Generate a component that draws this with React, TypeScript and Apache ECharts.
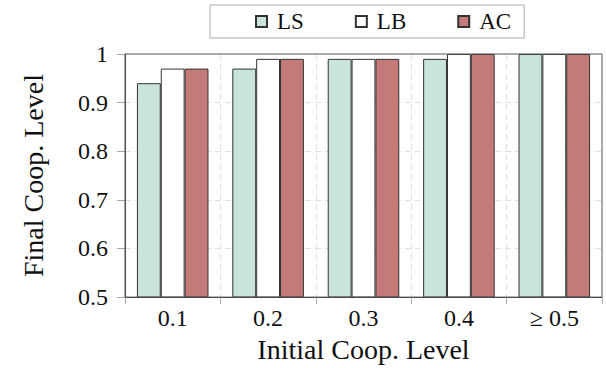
import React, { useEffect, useRef } from "react";
import * as echarts from "echarts";

const categories = ["0.1", "0.2", "0.3", "0.4", "≥ 0.5"];
const lsValues = [0.94, 0.97, 0.99, 0.99, 1.0];
const lbValues = [0.97, 0.99, 0.99, 1.0, 1.0];
const acValues = [0.97, 0.99, 0.99, 1.0, 1.0];
const seriesNames = ["LS", "LB", "AC"];
const seriesColors = ["#c9e4dc", "#ffffff", "#c47a78"];

const FONT = "Liberation Serif";

export default function App() {
  const ref = useRef<HTMLDivElement>(null);
  useEffect(() => {
    document.body.style.margin = "0";
    document.body.style.overflow = "hidden";
    document.documentElement.style.overflow = "hidden";
    if (!ref.current) return;
    const chart = echarts.init(ref.current, undefined, { renderer: "svg" });
    const data = [lsValues, lbValues, acValues];
    chart.setOption({
      animation: false,
      backgroundColor: "#ffffff",
      textStyle: { fontFamily: FONT, color: "#111" },
      legend: {
        left: 210,
        top: 5,
        itemWidth: 11,
        itemHeight: 11,
        itemGap: 51,
        padding: [5, 13, 5, 45],
        borderColor: "#aaaaaa",
        borderWidth: 1,
        textStyle: { fontFamily: FONT, fontSize: 23, color: "#111", padding: [0, 0, 0, 5] },
        data: seriesNames.map((n) => ({ name: n, icon: "rect" })),
      },
      grid: {
        left: 125,
        right: 4,
        top: 54,
        bottom: 70,
        show: true,
        borderColor: "#555",
        borderWidth: 1,
        z: 3,
      },
      xAxis: {
        type: "category",
        data: categories,
        name: "Initial Coop. Level",
        nameLocation: "middle",
        nameGap: 36,
        nameTextStyle: { fontFamily: FONT, fontSize: 28, color: "#111" },
        axisLine: { lineStyle: { color: "#444", width: 1 } },
        axisTick: { show: true, alignWithLabel: false, length: 7, lineStyle: { color: "#aaa" } },
        axisLabel: { fontFamily: FONT, fontSize: 24, color: "#111", margin: 9 },
        splitLine: {
          show: true,
          interval: 0,
          showMinLine: false,
          showMaxLine: false,
          lineStyle: { type: [6, 4], color: "#e0e0e0" },
        },
      },
      yAxis: {
        type: "value",
        min: 0.5,
        max: 1,
        interval: 0.1,
        name: "Final Coop. Level",
        nameLocation: "middle",
        nameGap: 78,
        nameTextStyle: { fontFamily: FONT, fontSize: 28, color: "#111" },
        axisLine: { show: true, lineStyle: { color: "#444", width: 1 } },
        axisTick: { show: true, length: 8, lineStyle: { color: "#aaa" } },
        axisLabel: {
          fontFamily: FONT,
          fontSize: 24,
          color: "#111",
          margin: 17,
          formatter: (v: number) => String(Math.round(v * 10) / 10),
        },
        splitLine: {
          show: true,
          showMinLine: false,
          showMaxLine: false,
          lineStyle: { type: [6, 4], color: "#e0e0e0" },
        },
      },
      series: seriesNames.map((n, i) => ({
        name: n,
        type: "bar",
        data: data[i],
        barGap: "0%",
        barCategoryGap: "25%",
        itemStyle: { color: seriesColors[i], borderColor: "#333", borderWidth: 1 },
      })),
    });
    return () => chart.dispose();
  }, []);
  return <div ref={ref} style={{ width: 606, height: 368 }} />;
}
